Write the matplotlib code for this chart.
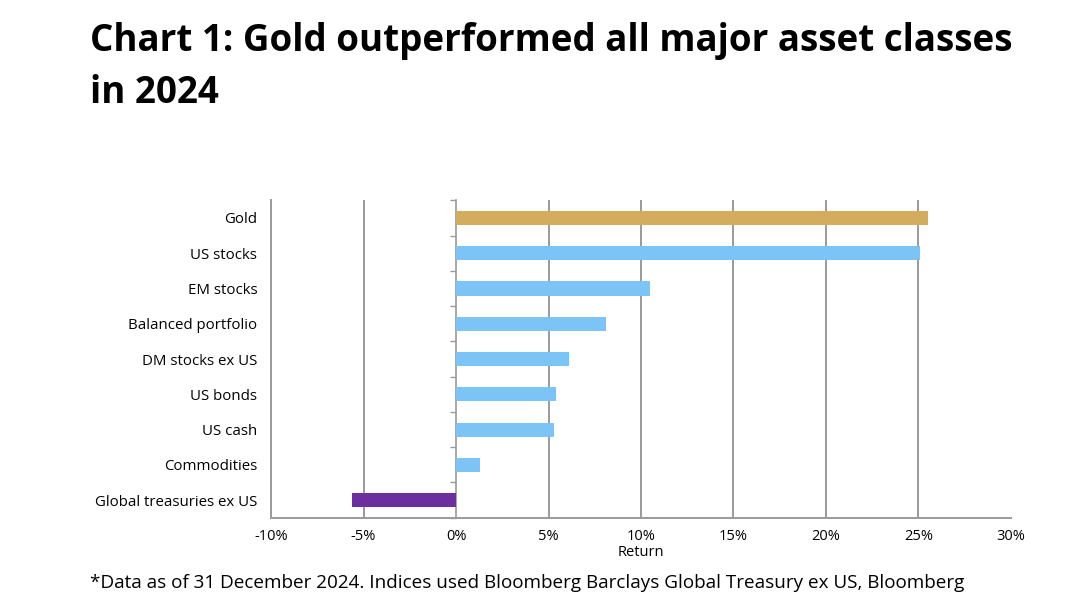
import numpy as np
import matplotlib.pyplot as plt

plt.rcParams['font.family'] = ['Open Sans', 'DejaVu Sans']

# data (top to bottom in the chart)
assets = ['Gold', 'US stocks', 'EM stocks', 'Balanced portfolio', 'DM stocks ex US',
          'US bonds', 'US cash', 'Commodities', 'Global treasuries ex US']
returns = [25.5, 25.1, 10.5, 8.1, 6.1, 5.4, 5.3, 1.3, -5.6]
colors = ['#D4AC5E'] + ['#7DC4F6'] * 7 + ['#6B2FA0']
xticks = [-10, -5, 0, 5, 10, 15, 20, 25, 30]

fig = plt.figure(figsize=(10.8, 6.07), dpi=100)
ax = fig.add_axes([0.251, 0.147, 0.685, 0.523])

y = np.arange(len(assets))[::-1]
ax.barh(y, returns, height=0.4, color=colors, zorder=3)

ax.set_xlim(-10, 30)
ax.set_ylim(-0.5, len(assets) - 0.5)
ax.set_xticks(xticks)
ax.set_xticklabels([f'{t}%' for t in xticks], fontsize=10.5)
ax.set_yticks(y)
ax.set_yticklabels(assets, fontsize=10.8)
ax.tick_params(axis='both', length=0, pad=8)
ax.tick_params(axis='y', pad=10)
ax.set_xlabel('Return', fontsize=10.5, labelpad=1)

ax.grid(axis='x', color='#9a9a9a', linewidth=1.4, zorder=1)
ax.xaxis.get_gridlines()[-1].set_visible(False)
ax.xaxis.get_gridlines()[2].set_visible(False)
for s in ['top', 'right']:
    ax.spines[s].set_visible(False)
ax.spines['left'].set_color('#9a9a9a')
ax.spines['left'].set_linewidth(1.4)
ax.spines['bottom'].set_color('#9a9a9a')
ax.spines['bottom'].set_linewidth(1.4)

# zero axis with small category ticks
zero = ax.secondary_yaxis(10 / 40)
zero.spines['left'].set_color('#9a9a9a')
zero.spines['left'].set_linewidth(1.2)
zero.set_yticks(np.arange(len(assets) + 1) - 0.5)
zero.set_yticklabels([])
zero.tick_params(axis='y', length=4, color='#9a9a9a', width=1)

fig.text(0.083, 0.963, 'Chart 1: Gold outperformed all major asset classes\nin 2024',
         fontsize=26.5, fontweight='bold', ha='left', va='top', linespacing=1.45)
fig.text(0.083, 0.04,
         '*Data as of 31 December 2024. Indices used Bloomberg Barclays Global Treasury ex US, Bloomberg',
         fontsize=13.6, ha='left', va='center')

fig.savefig('out.png', dpi=100)
